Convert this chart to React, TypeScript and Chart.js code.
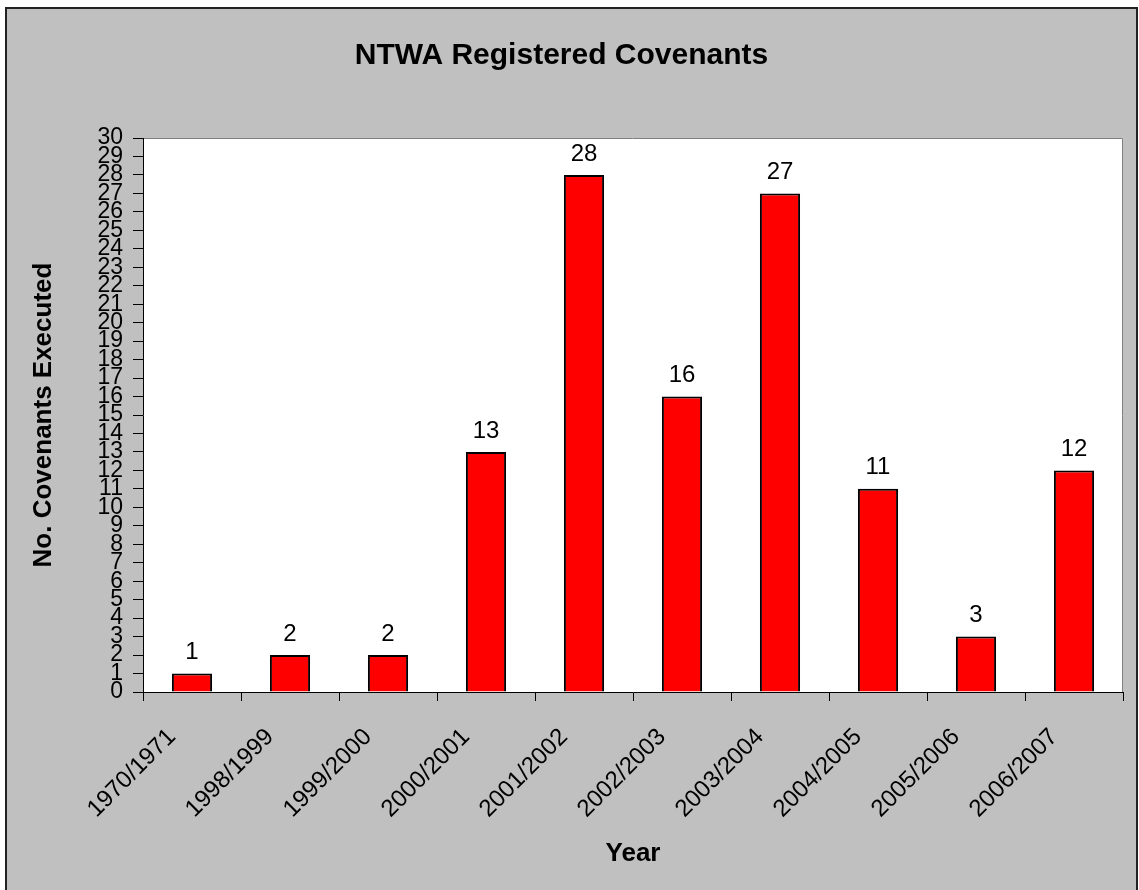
import { useEffect, useRef } from 'react';
import { Chart, registerables } from 'chart.js';

Chart.register(...registerables);

const categories = ['1970/1971', '1998/1999', '1999/2000', '2000/2001', '2001/2002', '2002/2003', '2003/2004', '2004/2005', '2005/2006', '2006/2007'];
const covenants = [1, 2, 2, 13, 28, 16, 27, 11, 3, 12];
const yMin = 0;
const yMax = 30;
const yStep = 1;
const chartTitle = 'NTWA Registered Covenants';
const xTitle = 'Year';
const yTitle = 'No. Covenants Executed';

const FONT = '"Liberation Sans", Arial, Helvetica, sans-serif';
const W = 1139;
const H = 890;
const PLOT = { left: 143, top: 138, right: 1123, bottom: 692 };

const backgroundPlugin = {
  id: 'bgFrame',
  beforeDraw(chart: any) {
    const { ctx, chartArea } = chart;
    ctx.save();
    ctx.fillStyle = '#ffffff';
    ctx.fillRect(0, 0, W, H);
    ctx.fillStyle = '#c0c0c0';
    ctx.fillRect(6, 8, 1131, H);
    ctx.strokeStyle = '#222222';
    ctx.lineWidth = 2;
    ctx.strokeRect(6, 8, 1131, H + 10);
    ctx.fillStyle = '#ffffff';
    ctx.fillRect(chartArea.left, chartArea.top, chartArea.right - chartArea.left, chartArea.bottom - chartArea.top);
    ctx.strokeStyle = '#808080';
    ctx.lineWidth = 1;
    ctx.beginPath();
    ctx.moveTo(chartArea.left, chartArea.top + 0.5);
    ctx.lineTo(chartArea.right - 0.5, chartArea.top + 0.5);
    ctx.lineTo(chartArea.right - 0.5, chartArea.bottom);
    ctx.stroke();
    ctx.restore();
  },
};

const valueLabelPlugin = {
  id: 'valueLabels',
  afterDatasetsDraw(chart: any) {
    const { ctx } = chart;
    const meta = chart.getDatasetMeta(0);
    ctx.save();
    ctx.font = `24px ${FONT}`;
    ctx.fillStyle = '#000';
    ctx.textAlign = 'center';
    ctx.textBaseline = 'middle';
    meta.data.forEach((bar: any, i: number) => {
      ctx.fillText(String(covenants[i]), bar.x, bar.y - 21);
    });
    ctx.restore();
  },
};

export default function App() {
  const ref = useRef<HTMLCanvasElement | null>(null);
  useEffect(() => {
    if (!ref.current) return;
    const chart = new Chart(ref.current, {
      type: 'bar',
      data: {
        labels: categories,
        datasets: [
          {
            data: covenants,
            backgroundColor: '#ff0000',
            borderColor: '#000000',
            borderWidth: 2,
            barPercentage: 0.41,
            categoryPercentage: 1,
          },
        ],
      },
      options: {
        responsive: false,
        animation: false,
        layout: { padding: { left: 0, right: W - PLOT.right, top: 0, bottom: 0 } },
        plugins: {
          legend: { display: false },
          tooltip: { enabled: false },
          title: {
            display: true,
            text: chartTitle,
            color: '#000',
            font: { family: FONT, size: 30, weight: 'bold', lineHeight: 1.2 },
            padding: { top: 38, bottom: 64 },
          },
        },
        scales: {
          x: {
            type: 'category',
            offset: true,
            grid: { display: true, offset: true, drawOnChartArea: false, drawTicks: true, tickLength: 9, color: '#000' },
            border: { display: true, color: '#000', width: 1 },
            ticks: {
              color: '#000',
              font: { family: FONT, size: 24 },
              minRotation: 45,
              maxRotation: 45,
              autoSkip: false,
              padding: 22,
              labelOffset: -20,
            },
            title: {
              display: true,
              text: xTitle,
              color: '#000',
              font: { family: FONT, size: 26, weight: 'bold', lineHeight: 1.2 },
              padding: { top: 0, bottom: 20.4 },
            },
            afterFit(scale: any) {
              scale.height = H - PLOT.bottom;
            },
          },
          y: {
            min: yMin,
            max: yMax,
            grid: { drawOnChartArea: false, tickLength: 10, color: '#000' },
            border: { display: true, color: '#000', width: 1 },
            ticks: {
              stepSize: yStep,
              autoSkip: false,
              maxTicksLimit: 100,
              color: '#000',
              font: { family: FONT, size: 23, lineHeight: 0.7 },
              padding: 10,
            },
            title: {
              display: true,
              text: yTitle,
              color: '#000',
              font: { family: FONT, size: 26, weight: 'bold', lineHeight: 1.2 },
              padding: { top: 28.4, bottom: 0 },
            },
            afterFit(scale: any) {
              scale.width = PLOT.left;
            },
          },
        },
      },
      plugins: [backgroundPlugin, valueLabelPlugin],
    } as any);
    return () => chart.destroy();
  }, []);
  return (
    <div style={{ position: 'absolute', left: 0, top: 0, width: W, height: H }}>
      <canvas ref={ref} width={W} height={H} style={{ display: 'block' }} />
    </div>
  );
}
